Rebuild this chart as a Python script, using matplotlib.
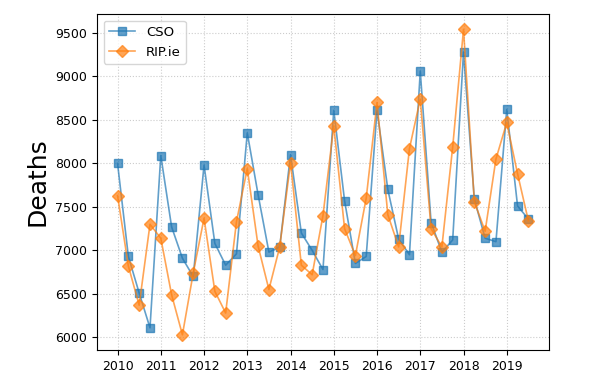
import matplotlib
matplotlib.use('Agg')
import matplotlib.pyplot as plt
import numpy as np

# quarterly time axis, 2010 Q1 .. 2019 Q3
quarters = np.arange(2010, 2019.75, 0.25)

cso = [8000, 6930, 6510, 6110,
       8090, 7270, 6910, 6700,
       7980, 7080, 6830, 6960,
       8350, 7640, 6980, 7040,
       8100, 7200, 7000, 6780,
       8610, 7570, 6850, 6930,
       8610, 7700, 7130, 6950,
       9060, 7320, 6980, 7120,
       9280, 7590, 7140, 7100,
       8620, 7510, 7360]

rip = [7630, 6820, 6370, 7300,
       7140, 6490, 6030, 6740,
       7370, 6530, 6280, 7330,
       7940, 7050, 6550, 7040,
       8010, 6830, 6720, 7400,
       8430, 7250, 6940, 7600,
       8700, 7410, 7040, 8170,
       8740, 7250, 7040, 8190,
       9540, 7560, 7220, 8050,
       8470, 7880, 7340]

years = list(range(2010, 2020))

fig = plt.figure(figsize=(6.14, 3.92), dpi=100)
ax = fig.add_axes([0.158, 0.107, 0.736, 0.857])

ax.plot(quarters, cso, marker='s', color='#1f77b4', alpha=0.7,
        markersize=6, lw=1.2, label='CSO')
ax.plot(quarters, rip, marker='D', color='#ff7f0e', alpha=0.7,
        markersize=6, lw=1.2, label='RIP.ie')

ax.set_xticks(years)
ax.set_yticks([6000, 6500, 7000, 7500, 8000, 8500, 9000, 9500])
ax.tick_params(labelsize=9)
ax.grid(True, linestyle=':', color='#cccccc', lw=0.8)
ax.set_ylabel('Deaths', fontsize=18)
ax.legend(loc='upper left', fontsize=9.5)

fig.savefig('out.png', dpi=100)
